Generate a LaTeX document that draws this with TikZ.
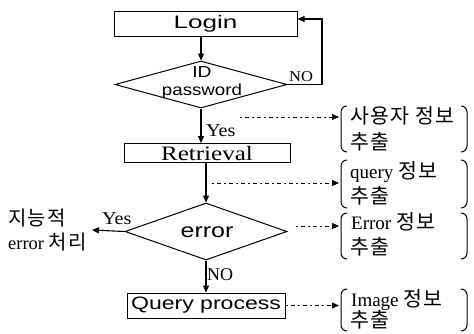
\documentclass[tikz,border=0pt]{standalone}
\usepackage{fontspec}
\usepackage{graphicx}
\setmainfont{Liberation Serif}
\setsansfont{Liberation Sans}
\newfontfamily\krfont[Scale=1.08,LetterSpace=6]{Noto Sans CJK KR}
\usetikzlibrary{shapes.geometric,arrows.meta}

% horizontally widened text
\newcommand\hstretch[2]{\scalebox{#1}[1]{#2}}
% a pair of round brackets around a two-line note: #1 centre y, #2 half height
\newcommand\bracepair[2]{%
  \draw[brk] (347,#1-#2) to[out=180,in=90] (341,#1-#2+6) -- (341,#1+#2-6) to[out=-90,in=180] (347,#1+#2);
  \draw[brk] (461,#1-#2) to[out=0,in=90] (467,#1-#2+6) -- (467,#1+#2-6) to[out=-90,in=0] (461,#1+#2);}

\begin{document}
\begin{tikzpicture}[x=1pt,y=-1pt,
  arr/.style={line width=1.1pt,-{Triangle[length=7pt,width=6pt]}},
  darr/.style={line width=0.6pt,dash pattern=on 2pt off 3pt on 4pt off 3pt,
    -{Triangle[length=7pt,width=6pt]}},
  stepbox/.style={draw,rectangle,line width=1pt,inner sep=0pt},
  decide/.style={draw,diamond,line width=1pt,inner sep=0pt},
  brk/.style={line width=1pt},
  lbl/.style={inner sep=0pt},
  note/.style={inner sep=0pt,anchor=west,text height=16pt,text depth=3pt,
    font=\fontsize{19}{22}\selectfont},
]
\useasboundingbox (0,0) rectangle (474,333);

% main flow
\node[stepbox,minimum width=183pt,minimum height=25pt] (login) at (205.5,23.5)
  {\sffamily\fontsize{18}{20}\selectfont\hstretch{1.45}{Login}};
\node[decide,minimum width=172pt,minimum height=47pt] (idpw) at (201,84.5) {};
\node[lbl,align=center,font=\sffamily\fontsize{16}{18}\selectfont] (idpwtext) at (202,83)
  {\hstretch{1.2}{ID}\\\hstretch{1.17}{password}};
\node[stepbox,minimum width=166pt,minimum height=19pt] (ret) at (207,153)
  {\fontsize{20.5}{22}\selectfont\hstretch{1.22}{Retrieval}};
\node[decide,minimum width=162pt,minimum height=57pt] (err) at (206,231.5) {};
\node[lbl,font=\sffamily\fontsize{20}{22}\selectfont] (errtext) at (207,232)
  {\hstretch{1.25}{error}};
\node[stepbox,minimum width=158pt,minimum height=25pt] (qp) at (206,305.5)
  {\sffamily\fontsize{18}{20}\selectfont\hstretch{1.28}{Query process}};

% connectors of the main flow
\coordinate (loopcorner) at (322,19);
\draw[arr] (login.south -| idpw.north) -- (idpw.north);
\draw[arr] (idpw.east) -| (loopcorner) -- (login.east |- loopcorner);
\node[lbl,font=\fontsize{15}{17}\selectfont] (no1) at (301,77) {\hstretch{1.1}{NO}};
\draw[arr] (idpw.south) -- (idpw.south |- ret.north);
\node[lbl,anchor=west,font=\fontsize{18}{20}\selectfont] (yes1) at (206,131) {\hstretch{1.12}{Yes}};
\draw[arr] (ret.south -| err.north) -- (err.north);

\node[lbl,anchor=west,align=left,font=\fontsize{18.5}{24}\selectfont] (autofix) at (8,230)
  {{\krfont 지능적}\\error {\krfont 처리}};
\coordinate (yestip) at (92,230);
\draw[arr] (err.west) -- (yestip);
\node[lbl,anchor=west,font=\fontsize{18}{20}\selectfont] (yes2) at (102,219) {\hstretch{1.12}{Yes}};
\draw[arr] (err.south) -- (err.south |- qp.north);
\node[lbl,anchor=west,font=\fontsize{18}{20}\selectfont] (no2) at (207,275) {NO};

% extracted information notes
\node[note] (g1a) at (350,117) {\krfont 사용자 정보};
\node[note] (g1b) at (350,143) {\krfont 추출};
\node[note] (g2a) at (350,172) {query {\krfont 정보}};
\node[note] (g2b) at (350,197) {\krfont 추출};
\node[note] (g3a) at (351,223) {Error {\krfont 정보}};
\node[note] (g3b) at (350,248) {\krfont 추출};
\node[note] (g4a) at (351,300) {Image {\krfont 정보}};
\node[note] (g4b) at (350,321) {\krfont 추출};

\bracepair{129}{23}
\bracepair{184}{24}
\bracepair{236}{23}
\bracepair{310}{21}

% dashed links to the notes
\coordinate (d1s) at (240,117);
\coordinate (d1e) at (339,117);
\coordinate (d2s) at (212,183);
\coordinate (d2e) at (339,183);
\coordinate (d3s) at (296,226);
\coordinate (d3e) at (339,226);
\coordinate (d4e) at (339,305.5);
\draw[darr] (d1s) -- (d1e);
\draw[darr] (d2s) -- (d2e);
\draw[darr] (d3s) -- (d3e);
\draw[darr] (qp.east) -- (d4e);
\end{tikzpicture}
\end{document}
